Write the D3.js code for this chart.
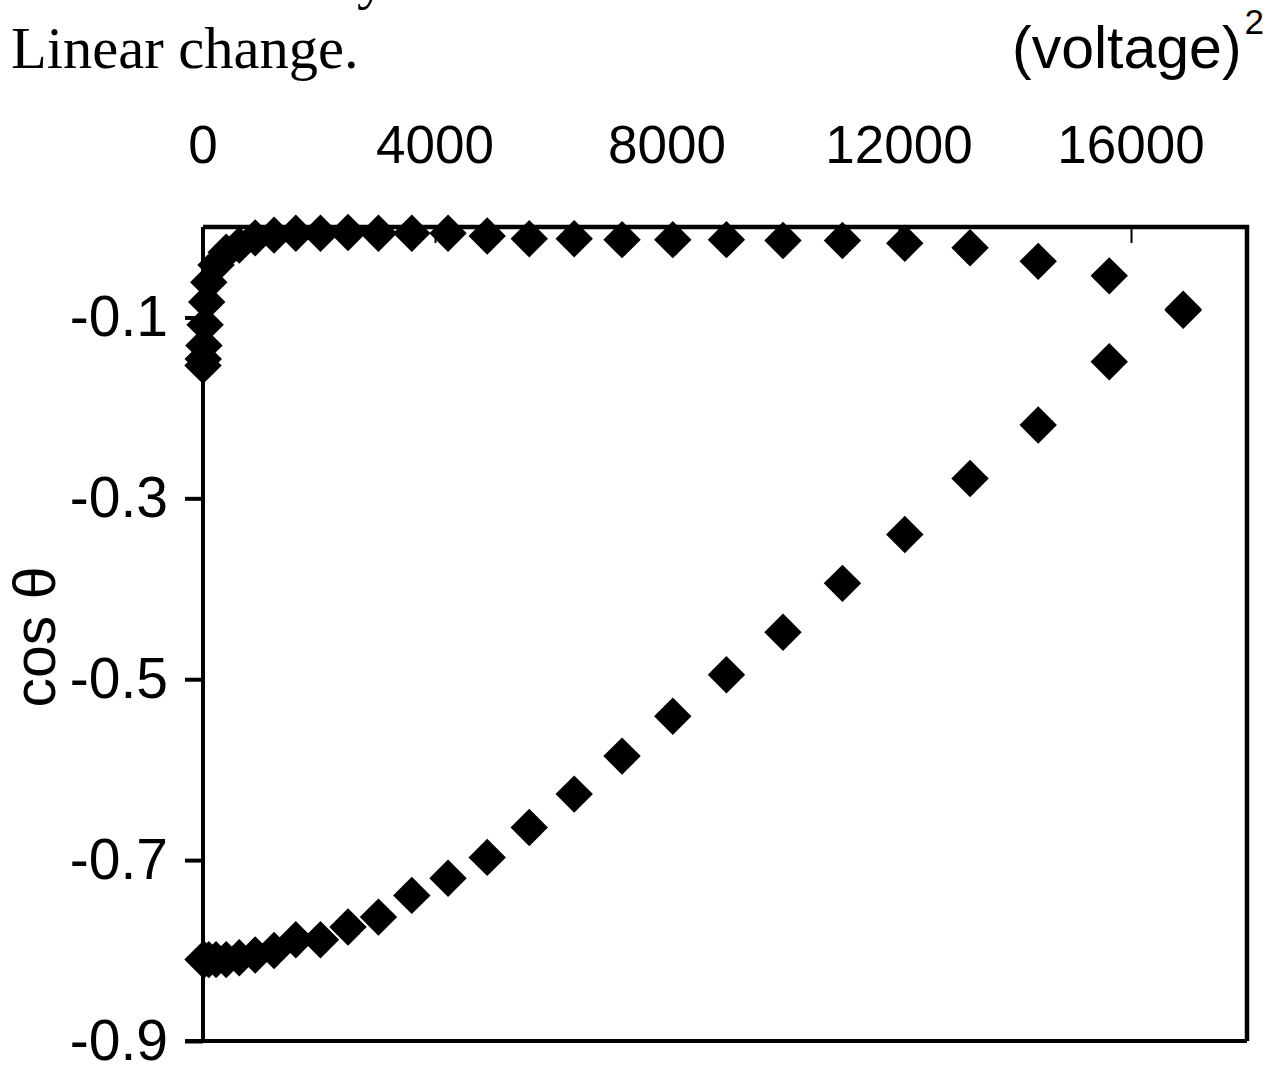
<!DOCTYPE html>
<html>
<head>
<meta charset="utf-8">
<script src="https://cdn.jsdelivr.net/npm/d3@7"></script>
<style>
    body{margin:0;background:#fff;}
    svg{display:block;}
</style>
</head>
<body>
<div id="chart"></div>
<script>
// (voltage)^2 values and cos theta readings, two runs
let xUpper = [0, 4, 16, 36, 64, 100, 225, 400, 625, 900, 1225, 1600, 2025, 2500, 3025, 3600, 4225,
    4900, 5625, 6400, 7225, 8100, 9025, 10000, 11025, 12100, 13225, 14400, 15625, 16900];
let yUpper = [-0.153, -0.146, -0.131, -0.108, -0.083, -0.061, -0.042, -0.028, -0.020, -0.012, -0.009, -0.007, -0.007, -0.006, -0.007, -0.007, -0.007,
    -0.010, -0.013, -0.013, -0.014, -0.014, -0.014, -0.015, -0.015, -0.018, -0.023, -0.038, -0.054, -0.091];

let xLower = [0, 25, 100, 225, 400, 625, 900, 1225, 1600, 2025, 2500, 3025, 3600, 4225,
    4900, 5625, 6400, 7225, 8100, 9025, 10000, 11025, 12100, 13225, 14400, 15625, 16900];
let yLower = [-0.810, -0.810, -0.810, -0.810, -0.810, -0.808, -0.805, -0.800, -0.788, -0.788, -0.774, -0.763, -0.739, -0.720,
    -0.697, -0.664, -0.627, -0.585, -0.541, -0.495, -0.448, -0.394, -0.340, -0.278, -0.219, -0.149, -0.092];

let xTicks = [0, 4000, 8000, 12000, 16000];
let yTicks = [-0.9, -0.7, -0.5, -0.3, -0.1];

let width = 1271;
let height = 1066;
let plotLeft = 203, plotRight = 1247, plotTop = 227, plotBottom = 1041;

let svg = d3.select("#chart")
    .append("svg")
    .attr("width", width)
    .attr("height", height)
    .attr("viewBox", [0, 0, width, height]);

let x = d3.scaleLinear().domain([0, 18000]).range([plotLeft, plotRight]);
let y = d3.scaleLinear().domain([-0.9, 0]).range([plotBottom, plotTop]);

let sans = "Liberation Sans, Arial, Helvetica, sans-serif";
let serif = "Liberation Serif, Times New Roman, serif";

// frame (top + right)
svg.append("path")
    .attr("d", `M${plotLeft},${plotTop}H${plotRight}V${plotBottom}`)
    .attr("fill", "none")
    .attr("stroke", "black")
    .attr("stroke-width", 4.5);

// x axis at top, ticks pointing in
let xAxis = svg.append("g")
    .attr("transform", `translate(0,${plotTop})`)
    .call(d3.axisBottom(x).tickValues(xTicks).tickSize(16));
xAxis.select(".domain").remove();
xAxis.selectAll(".tick line").attr("stroke-width", 2);
xAxis.selectAll(".tick text").remove();

svg.append("g")
    .selectAll("text")
    .data(xTicks)
    .join("text")
    .attr("x", d => x(d))
    .attr("y", 163)
    .attr("text-anchor", "middle")
    .attr("font-family", sans)
    .attr("font-size", 53)
    .text(d => d);

// y axis
let yAxis = svg.append("g")
    .attr("transform", `translate(${plotLeft},0)`)
    .call(d3.axisLeft(y).tickValues(yTicks).tickSize(18).tickPadding(17).tickFormat(d => d.toFixed(1)));
yAxis.select(".domain").remove();
yAxis.selectAll(".tick line").attr("stroke-width", 4);
yAxis.selectAll(".tick text")
    .attr("font-family", sans)
    .attr("font-size", 57)
    .attr("fill", "black");

svg.append("line")
    .attr("x1", plotLeft).attr("x2", plotLeft)
    .attr("y1", plotTop).attr("y2", plotBottom)
    .attr("stroke", "black").attr("stroke-width", 4);
svg.append("line")
    .attr("x1", plotLeft - 18).attr("x2", plotRight)
    .attr("y1", plotBottom).attr("y2", plotBottom)
    .attr("stroke", "black").attr("stroke-width", 4);

// markers
let diamond = d3.symbol(d3.symbolSquare, 700);
let series = [
    xUpper.map((v, i) => [v, yUpper[i]]),
    xLower.map((v, i) => [v, yLower[i]])
];
svg.append("g")
    .selectAll("g")
    .data(series)
    .join("g")
    .selectAll("path")
    .data(d => d)
    .join("path")
    .attr("d", diamond)
    .attr("fill", "black")
    .attr("transform", d => `translate(${x(d[0])},${y(d[1])}) rotate(45)`);

// texts
svg.append("text")
    .attr("x", 357)
    .attr("y", -2)
    .attr("font-family", serif)
    .attr("font-size", 58)
    .text("y");

svg.append("text")
    .attr("x", 11)
    .attr("y", 68)
    .attr("font-family", serif)
    .attr("font-size", 58.5)
    .text("Linear change.");

let xl = svg.append("text")
    .attr("x", 1264)
    .attr("y", 68)
    .attr("text-anchor", "end")
    .attr("font-family", sans)
    .attr("font-size", 59);
xl.append("tspan").text("(voltage)");
xl.append("tspan").attr("font-size", 35).attr("dx", 3).attr("dy", -34).text("2");

svg.append("text")
    .attr("transform", "translate(55,637) rotate(-90)")
    .attr("text-anchor", "middle")
    .attr("font-family", sans)
    .attr("font-size", 59)
    .text("cos θ");
</script>
</body>
</html>
